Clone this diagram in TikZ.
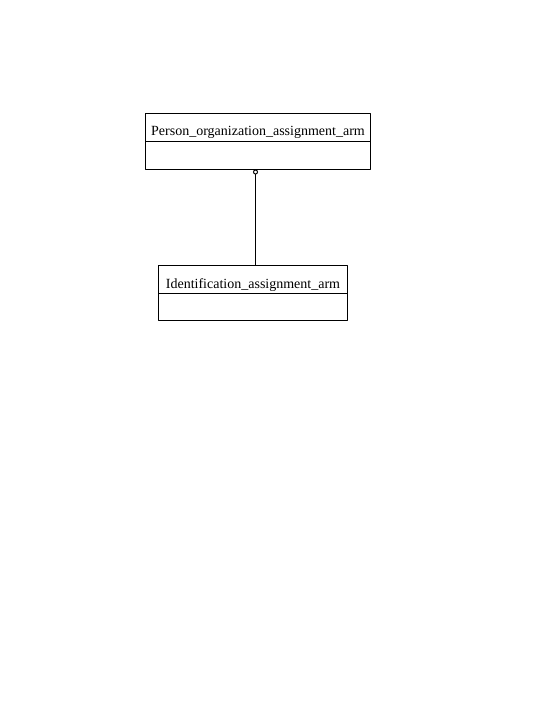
\documentclass[tikz,border=0pt]{standalone}
\usepackage{fontspec}
\setmainfont{Liberation Serif}
\usetikzlibrary{arrows.meta}
\begin{document}
\begin{tikzpicture}[x=1bp,y=-1bp,line join=round,line width=1bp,font=\fontsize{14bp}{16bp}\selectfont,
  head/.style={draw,minimum width=#1,minimum height=28bp,inner sep=0pt,outer sep=0pt,text height=17bp,text depth=0pt,anchor=north west},
  body/.style={draw,minimum width=#1,minimum height=28bp,inner sep=0pt,outer sep=0pt,anchor=north}]
\useasboundingbox (0,0) rectangle (540,720);
% classes
\node[head=225bp] (poa) at (145.5,113.5) {Person\_organization\_assignment\_arm};
\node[body=225bp] (poab) at (poa.south) {};
\node[head=189bp] (ida) at (158.5,265.5) {Identification\_assignment\_arm};
\node[body=189bp,minimum height=27bp] (idab) at (ida.south) {};
% link
\draw[{Circle[open,length=5bp,width=5bp]}-] (poab.south-|255.5,0) -- (ida.north-|255.5,0);
\end{tikzpicture}
\end{document}
